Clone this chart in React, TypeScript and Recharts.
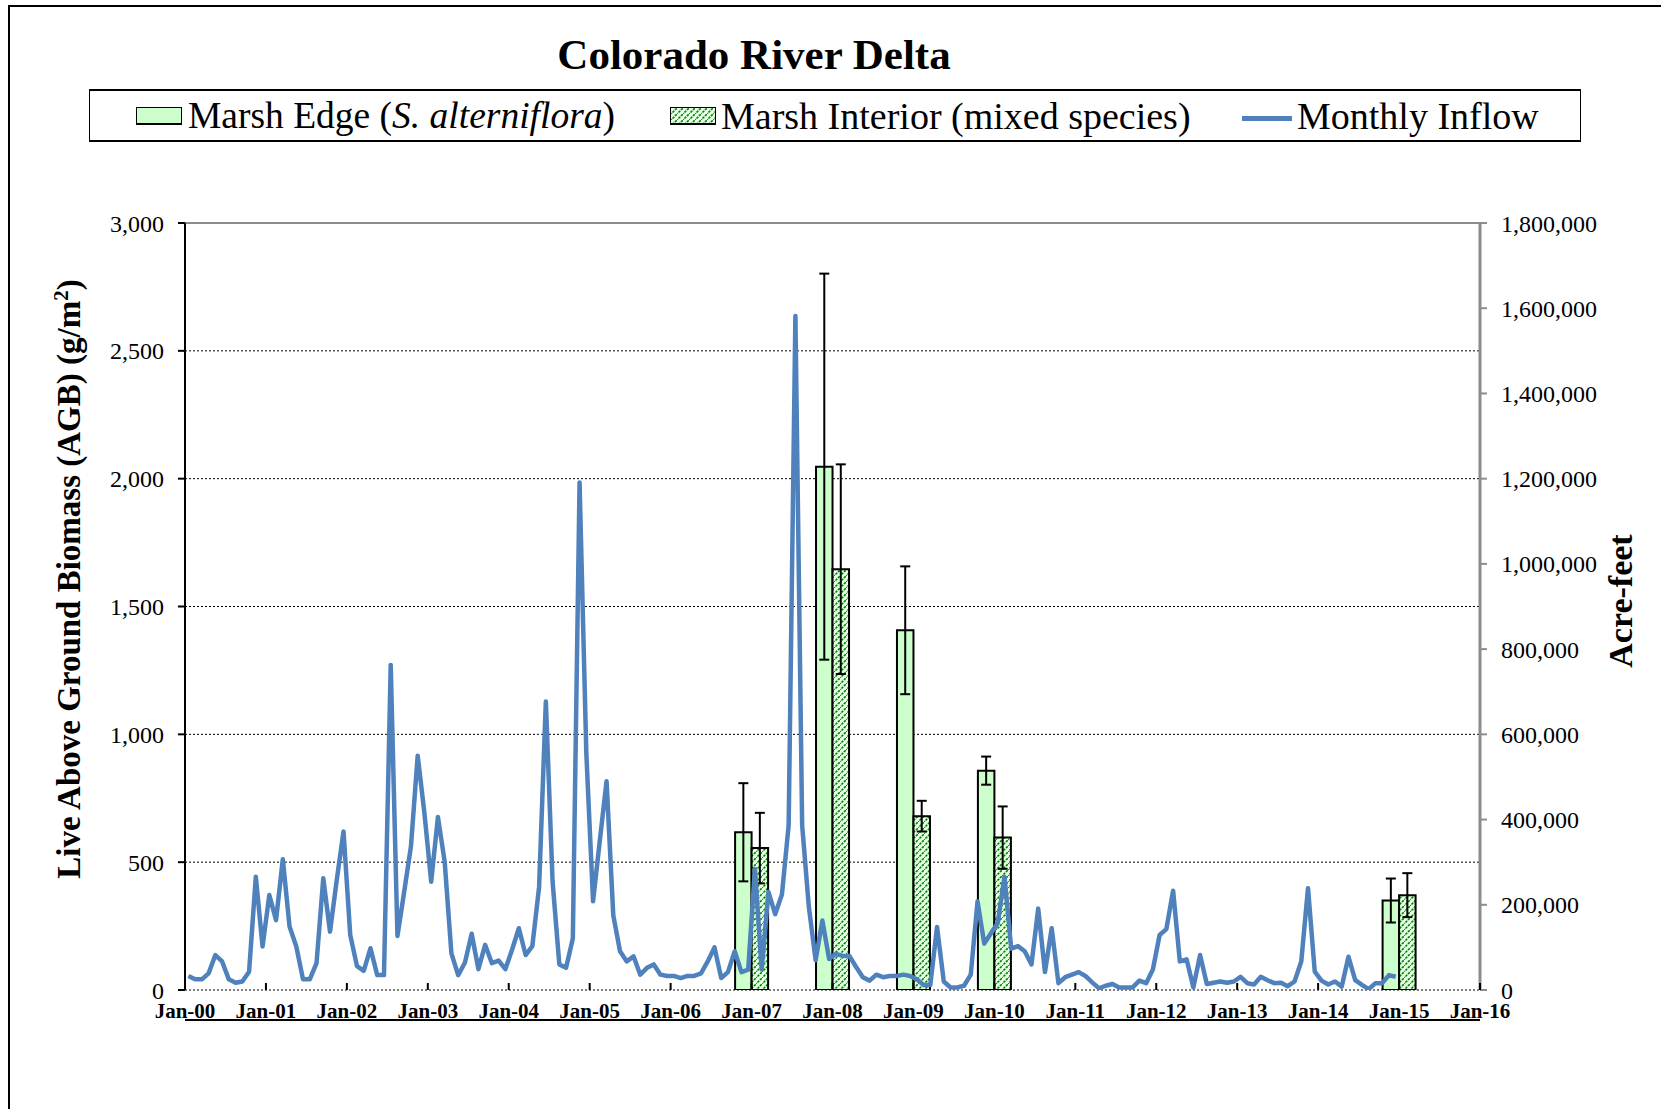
import React from "react";
import {
  ComposedChart,
  Line,
  Bar,
  ErrorBar,
  XAxis,
  YAxis,
  CartesianGrid,
} from "recharts";

const yearLabels = [
  "Jan-00", "Jan-01", "Jan-02", "Jan-03", "Jan-04", "Jan-05", "Jan-06", "Jan-07", "Jan-08",
  "Jan-09", "Jan-10", "Jan-11", "Jan-12", "Jan-13", "Jan-14", "Jan-15", "Jan-16",
];

// monthly inflow (acre-feet), Jan 2000 .. Dec 2014
const monthlyInflow = [
  33000, 25000, 25000, 39000, 82000, 67000, 25000, 17000, 20000, 43000, 266000, 102000,
  223000, 164000, 307000, 149000, 102000, 25000, 25000, 63000, 262000, 137000, 258000, 372000,
  129000, 56000, 45000, 98000, 35000, 35000, 763000, 127000, 231000, 337000, 550000, 415000,
  254000, 406000, 301000, 86000, 35000, 64000, 132000, 49000, 106000, 63000, 69000, 49000,
  95000, 145000, 82000, 103000, 242000, 677000, 254000, 60000, 52000, 121000, 1191000, 556000,
  208000, 350000, 490000, 175000, 91000, 67000, 79000, 36000, 52000, 60000, 36000, 33000,
  33000, 28000, 33000, 33000, 39000, 67000, 100000, 28000, 42000, 91000, 42000, 48000,
  284000, 48000, 230000, 178000, 224000, 387000, 1582000, 387000, 194000, 70000, 163000, 73000,
  85000, 80000, 80000, 54000, 30000, 22000, 36000, 30000, 33000, 33000, 36000, 33000,
  25000, 12000, 12000, 148000, 20000, 6000, 6000, 10000, 36000, 208000, 109000, 133000,
  157000, 266000, 97000, 103000, 91000, 60000, 191000, 42000, 145000, 16000, 30000, 36000,
  42000, 33000, 18000, 4000, 10000, 14000, 6000, 6000, 6000, 22000, 16000, 48000,
  129000, 143000, 233000, 67000, 72000, 6000, 82000, 14000, 17000, 20000, 17000, 20000,
  31000, 16000, 13000, 31000, 23000, 16000, 17000, 9000, 20000, 67000, 239000, 43000,
  22000, 13000, 20000, 8000, 78000, 23000, 12000, 2000, 16000, 16000, 35000, 31000,
];

// biomass sampling dates (months since Jan-00)
const sampleMonths = [84, 96, 108, 120, 180];
const edgeAgb = [617, 2047, 1407, 858, 350];
const edgeErr = [192, 755, 250, 55, 86];
const interiorAgb = [555, 1646, 680, 596, 371];
const interiorErr = [138, 410, 60, 122, 86];

const leftTicks = [0, 500, 1000, 1500, 2000, 2500, 3000];
const rightTicks = [0, 200000, 400000, 600000, 800000, 1000000, 1200000, 1400000, 1600000, 1800000];
const yearTicks = yearLabels.map((_, i) => i * 12);

const inflowData = monthlyInflow.map((v, i) => ({ month: i + 0.5, inflow: v }));
const biomassData = sampleMonths.map((m, i) => ({
  month: m,
  edge: edgeAgb[i],
  edgeErr: edgeErr[i],
  interior: interiorAgb[i],
  interiorErr: interiorErr[i],
}));

const FONT = '"Liberation Serif", "Times New Roman", serif';
const fmt = (v: number) => v.toLocaleString("en-US");

const CHART_H = 1109;
const MARGIN = { top: 213, right: 61, bottom: 89, left: 85 };
const X_AXIS_H = 30;
const AXIS_Y = CHART_H - MARGIN.bottom - X_AXIS_H;

// year ticks point up into the plot, labels sit below the axis
const YearTick = (props: any) => {
  const { x, payload } = props;
  return (
    <g>
      <line x1={x} y1={AXIS_Y} x2={x} y2={AXIS_Y - 7} stroke="#000" strokeWidth={2} />
      <text x={x} y={AXIS_Y + 28} textAnchor="middle" fontSize={21} fontWeight="bold" fontFamily={FONT} fill="#000">
        {yearLabels[Math.round(payload.value / 12)]}
      </text>
    </g>
  );
};

const swatch = { position: "absolute" as const, width: 46, height: 18, boxSizing: "border-box" as const, border: "1px solid #000", borderBottomWidth: 2 };

export default function App() {
  return (
    <div style={{ position: "fixed", left: 0, top: 0, width: 1661, height: 1109, overflow: "hidden", background: "#fff", fontFamily: FONT, color: "#000" }}>
      <svg width={0} height={0} style={{ position: "absolute" }}>
        <defs>
          <pattern id="hatch" patternUnits="userSpaceOnUse" width={6} height={6}>
            <rect width={6} height={6} fill="#e4ffe4" />
            <path d="M-1,7 L7,-1" stroke="#008000" strokeWidth={1.6} strokeDasharray="2.5 1" />
          </pattern>
        </defs>
      </svg>

      <div style={{ position: "absolute", left: 8, top: 5, width: 1700, height: 1200, borderTop: "2px solid #000", borderLeft: "2px solid #000" }} />

      <div style={{ position: "absolute", left: 0, top: 30, width: 1508, textAlign: "center", fontSize: 43, fontWeight: "bold", lineHeight: "50px" }}>
        Colorado River Delta
      </div>

      <div style={{ position: "absolute", left: 89, top: 89, width: 1492, height: 53, boxSizing: "border-box", border: "1px solid #000", borderTopWidth: 2, borderBottomWidth: 2 }} />
      <div style={{ ...swatch, left: 136, top: 107, background: "#ccffcc" }} />
      <div style={{ position: "absolute", left: 188, top: 89, height: 53, display: "flex", alignItems: "center", fontSize: 37.5, whiteSpace: "nowrap" }}>
        <span>Marsh Edge (<i>S. alterniflora</i>)</span>
      </div>
      <div style={{ ...swatch, left: 670, top: 107 }}>
        <svg width={44} height={15} style={{ display: "block" }}>
          <rect width={44} height={15} fill="url(#hatch)" />
        </svg>
      </div>
      <div style={{ position: "absolute", left: 721, top: 89, height: 53, display: "flex", alignItems: "center", fontSize: 38, whiteSpace: "nowrap" }}>
        Marsh Interior (mixed species)
      </div>
      <div style={{ position: "absolute", left: 1242, top: 116, width: 50, height: 5, background: "#4f81bd" }} />
      <div style={{ position: "absolute", left: 1297, top: 89, height: 53, display: "flex", alignItems: "center", fontSize: 38, whiteSpace: "nowrap" }}>
        Monthly Inflow
      </div>

      <div style={{ position: "absolute", left: 71, top: 579, transform: "translate(-50%, -50%) rotate(-90deg)", fontSize: 33, fontWeight: "bold", whiteSpace: "nowrap", lineHeight: "36px" }}>
        Live Above Ground Biomass (AGB) (g/m<span style={{ fontSize: 21, position: "relative", top: -12 }}>2</span>)
      </div>
      <div style={{ position: "absolute", left: 1621, top: 601, transform: "translate(-50%, -50%) rotate(-90deg)", fontSize: 34, fontWeight: "bold", whiteSpace: "nowrap", lineHeight: "36px" }}>
        Acre-feet
      </div>

      <div style={{ position: "absolute", left: 0, top: 0 }}>
        <ComposedChart width={1661} height={CHART_H} data={biomassData} barGap={0} margin={MARGIN}>
          <CartesianGrid xAxisId="main" yAxisId="left" vertical={false} stroke="#000" strokeDasharray="2 2" />
          <XAxis
            xAxisId="main"
            dataKey="month"
            type="number"
            domain={[0, 192]}
            ticks={yearTicks}
            interval={0}
            height={X_AXIS_H}
            tickLine={false}
            tickSize={0}
            tickMargin={0}
            axisLine={{ stroke: "#000", strokeWidth: 2 }}
            tick={<YearTick />}
          />
          <XAxis xAxisId="bars" dataKey="month" type="number" domain={[0, 192]} hide />
          <XAxis
            xAxisId="top"
            orientation="top"
            type="number"
            domain={[0, 192]}
            ticks={yearTicks}
            tick={false}
            height={10}
            tickSize={5}
            axisLine={{ stroke: "#8c8c8c", strokeWidth: 2 }}
            tickLine={{ stroke: "#8c8c8c", strokeWidth: 2 }}
          />
          <YAxis
            yAxisId="left"
            domain={[0, 3000]}
            ticks={leftTicks}
            interval={0}
            width={100}
            allowDataOverflow
            tickFormatter={fmt}
            tickSize={7}
            tickMargin={14}
            axisLine={{ stroke: "#000", strokeWidth: 2 }}
            tickLine={{ stroke: "#000", strokeWidth: 2 }}
            tick={{ fontSize: 24, fill: "#000", fontFamily: FONT }}
          />
          <YAxis
            yAxisId="right"
            orientation="right"
            domain={[0, 1800000]}
            ticks={rightTicks}
            interval={0}
            width={120}
            allowDataOverflow
            tickFormatter={fmt}
            tickSize={7}
            tickMargin={14}
            axisLine={{ stroke: "#8c8c8c", strokeWidth: 3 }}
            tickLine={{ stroke: "#8c8c8c", strokeWidth: 2 }}
            tick={{ fontSize: 24, fill: "#000", fontFamily: FONT }}
          />
          <Bar xAxisId="bars" yAxisId="left" dataKey="edge" fill="#ccffcc" stroke="#000" strokeWidth={2} barSize={16.5} isAnimationActive={false}>
            <ErrorBar dataKey="edgeErr" width={5} stroke="#000" strokeWidth={2} direction="y" />
          </Bar>
          <Bar xAxisId="bars" yAxisId="left" dataKey="interior" fill="url(#hatch)" stroke="#000" strokeWidth={2} barSize={16.5} isAnimationActive={false}>
            <ErrorBar dataKey="interiorErr" width={5} stroke="#000" strokeWidth={2} direction="y" />
          </Bar>
          <Line
            xAxisId="main"
            yAxisId="right"
            data={inflowData}
            dataKey="inflow"
            type="linear"
            stroke="#4f81bd"
            strokeWidth={4.5}
            strokeLinejoin="round"
            dot={false}
            activeDot={false}
            isAnimationActive={false}
          />
        </ComposedChart>
      </div>
    </div>
  );
}
